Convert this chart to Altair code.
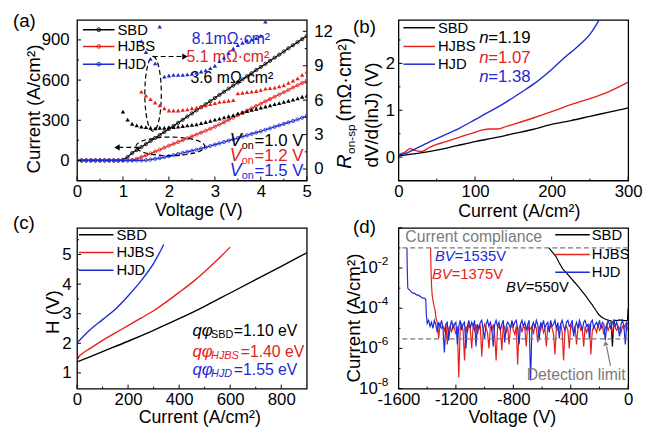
import altair as alt
import pandas as pd

FONT = "Liberation Sans"
BLACK, RED, BLUE, GRAY = "#000000", "#e6201c", "#1c2bd6", "#7b7b7b"
W, H = 233, 163
ONE = pd.DataFrame({"k": [0]})

# ---------------- (a) J-V curves and R_on,sp ----------------
a_volt = [round(0.1 * i, 1) for i in range(51)]
a_j_sbd = [0] * 10 + [5, 25, 55, 78, 100, 122, 145, 168, 190, 212,
                      235, 258, 281, 304, 328, 351, 374, 397, 420, 443,
                      466, 490, 513, 536, 559, 582, 605, 628, 651, 675,
                      698, 721, 744, 767, 790, 813, 837, 860, 883, 906, 929]
a_j_hjbs = [0] * 12 + [3, 12, 25, 38, 52, 66, 80, 95,
                       110, 124, 138, 152, 166, 180, 194, 208, 222, 237,
                       252, 269, 286, 303, 320, 338, 355, 372, 389, 406,
                       423, 441, 458, 475, 492, 509, 526, 544, 561, 578, 595]
a_j_hjd = [0] * 15 + [2, 6, 12, 18, 25,
                      32, 40, 48, 56, 64, 72, 80, 89, 98, 108,
                      118, 128, 138, 148, 158, 168, 178, 188, 198, 208,
                      218, 229, 240, 251, 262, 273, 284, 295, 306, 319, 332]
a_rv_sbd = [round(1.0 + 0.1 * i, 1) for i in range(41)]
a_r_sbd = [5.0, 4.3, 3.95, 3.8, 3.7, 3.65, 3.6, 3.55, 3.6, 3.6,
           3.65, 3.65, 3.7, 3.75, 3.8, 3.85, 3.9, 4.0, 4.1, 4.2,
           4.3, 4.4, 4.5, 4.6, 4.7, 4.85, 4.95, 5.05, 5.15, 5.25,
           5.35, 5.45, 5.55, 5.65, 5.75, 5.85, 5.95, 6.05, 6.15, 6.3, 6.4]
a_rv_hjbs = [round(1.4 + 0.1 * i, 1) for i in range(37)]
a_r_hjbs = [6.75, 6.4, 6.1, 5.8, 5.55, 5.3,
            5.1, 5.1, 5.1, 5.15, 5.2, 5.3, 5.35, 5.45, 5.55, 5.65,
            5.75, 5.85, 5.9, 5.95, 6.0, 6.6, 6.65, 6.7, 6.75, 6.8,
            6.9, 7.0, 7.05, 7.1, 7.2, 7.3, 7.5, 7.7, 7.9, 8.2, 8.5]
a_rv_hjd = [round(1.4 + 0.1 * i, 1) for i in range(28)]
a_r_hjd = [11.15, 10.2, 9.6, 9.2, 12.4, 8.05,
           8.15, 8.2, 8.2, 8.2, 8.25, 8.3, 8.4, 8.5, 8.6, 8.8,
           9.0, 9.4, 9.7, 10.1, 10.5, 10.8, 11.0, 11.2, 11.3, 11.4,
           11.6, 12.85]

# ---------------- (b) dV/d(lnJ) ----------------
b_i_sbd = [0, 25, 50, 75, 100, 125, 150, 175, 200, 225, 250, 275, 300]
b_v_sbd = [0.03, 0.08, 0.15, 0.24, 0.33, 0.41, 0.5, 0.59, 0.7, 0.78, 0.87, 0.96, 1.05]
b_i_hjbs = [0, 8, 15, 20, 30, 40, 50, 60, 75, 90, 100, 110, 120, 130, 140, 150,
            175, 200, 225, 250, 275, 300]
b_v_hjbs = [0.05, 0.1, 0.18, 0.15, 0.12, 0.2, 0.27, 0.32, 0.4, 0.48, 0.53, 0.58,
            0.6, 0.6, 0.65, 0.7, 0.83, 0.97, 1.12, 1.25, 1.4, 1.6]
b_i_hjd = [0, 10, 20, 40, 60, 80, 100, 120, 140, 160, 180, 200, 220, 230, 240, 250, 262]
b_v_hjd = [0.05, 0.08, 0.16, 0.32, 0.47, 0.62, 0.8, 0.98, 1.17, 1.38, 1.6, 1.87,
           2.17, 2.3, 2.45, 2.62, 2.93]

# ---------------- (c) H(J) ----------------
c_i_sbd = [0, 100, 200, 300, 400, 500, 600, 700, 800, 900]
c_h_sbd = [1.37, 1.72, 2.07, 2.44, 2.83, 3.25, 3.7, 4.15, 4.6, 5.06]
c_i_hjbs = [0, 10, 25, 50, 100, 150, 200, 250, 300, 350, 400, 450, 500, 550, 600]
c_h_hjbs = [1.47, 1.58, 1.68, 1.82, 2.1, 2.35, 2.6, 2.85, 3.1, 3.4, 3.72, 4.05,
            4.42, 4.82, 5.25]
c_i_hjd = [0, 50, 100, 150, 200, 250, 300, 340]
c_h_hjd = [2.01, 2.45, 2.8, 3.15, 3.6, 4.1, 4.7, 5.34]

# ---------------- (d) reverse I-V (log10 of current density) ----------------
d_v_sbd = [-552, -530, -505, -480, -455, -435, -405, -378, -350, -321, -300, -275,
           -253, -230, -207, -185, -162, -140, -120, -110, -100, -80, -60, -40,
           -20, -5, 0]
d_lg_sbd = [-1.0, -1.2, -1.4, -1.75, -2.05, -2.2, -2.45, -2.67, -2.9, -3.16, -3.35,
            -3.6, -3.81, -4.05, -4.3, -4.45, -4.54, -4.6, -4.62, -5.9, -4.6, -4.62,
            -4.58, -4.6, -4.62, -4.6, -4.0]
d_v_hjbs = [-1376, -1375, -1373, -1370, -1366, -1360, -1352, -1345, -1338] + list(range(-1330, 1, 10))
d_lg_hjbs = [-1.0, -1.5, -2.2, -2.8, -3.3, -3.6, -3.9, -4.1, -4.5,
             -4.7, -5.5, -4.8, -5.0, -4.9, -5.1, -4.8, -5.8, -5.0,
             -4.9, -5.2, -4.8, -5.0, -5.3, -4.9, -7.45, -5.0, -4.8, -5.1,
             -6.6, -4.9, -5.2, -4.8, -5.0, -6.0, -4.9, -5.1, -4.8, -5.3,
             -5.0, -4.9, -6.4, -5.1, -4.8, -5.0, -5.2, -6.0, -4.9, -5.1,
             -4.8, -5.3, -6.6, -5.0, -4.9, -5.1, -6.1, -4.8, -5.0, -5.2,
             -4.9, -5.8, -5.0, -4.8, -5.1, -5.3, -4.9, -6.8, -5.0, -4.8,
             -5.2, -4.9, -5.0, -5.9, -4.8, -5.1, -5.0, -4.9, -5.3, -4.8,
             -5.0, -5.7, -4.9, -5.1, -4.8, -5.2, -5.0, -5.9, -4.9, -5.1,
             -4.8, -5.0, -5.3, -6.3, -4.9, -5.1, -5.0, -4.8, -5.2, -6.6,
             -5.0, -4.9, -5.1, -6.0, -4.8, -5.0, -5.2, -4.9, -5.8, -5.0,
             -4.8, -5.1, -5.0, -5.9, -4.9, -5.2, -5.0, -4.8, -6.3, -5.1,
             -4.9, -5.0, -5.2, -4.8, -5.1, -5.0, -4.9, -5.3, -5.0, -4.8,
             -5.1, -4.9, -5.0, -5.2, -4.8, -5.0, -5.1, -4.9, -5.0, -5.2,
             -4.9, -5.0, -4.8, -5.1, -4.9]
d_v_hjd = [-1541, -1540, -1538, -1535, -1530, -1520, -1510, -1500, -1490, -1480,
           -1470, -1460, -1450, -1440, -1430, -1420, -1410, -1406] + list(range(-1400, 1, 10))
d_lg_hjd = [-1.0, -1.5, -2.3, -3.0, -3.05, -3.1, -3.2, -3.25, -3.25, -3.3,
            -3.35, -3.35, -3.4, -3.45, -3.5, -3.5, -3.55, -4.3,
            -4.75, -4.6, -4.9, -4.7, -5.0, -4.6, -4.8, -5.2, -4.7, -4.9,
            -4.6, -5.0, -6.2, -4.8, -4.7, -5.6, -4.9, -4.6, -5.0, -4.8,
            -4.7, -5.8, -4.9, -4.6, -5.1, -4.8, -4.7, -6.0, -4.9, -4.6,
            -5.0, -4.7, -4.9, -4.6, -5.9, -4.8, -5.0, -4.7, -4.6, -5.1,
            -5.5, -4.8, -4.6, -4.9, -4.7, -5.0, -5.9, -4.8, -4.6, -4.9,
            -4.7, -5.1, -4.8, -4.6, -5.7, -4.9, -4.7, -4.8, -5.0, -4.6,
            -4.9, -4.7, -4.6, -5.0, -5.8, -4.8, -4.6, -4.9, -4.7, -5.1,
            -4.8, -4.6, -7.6, -4.9, -4.7, -5.0, -4.6, -4.8, -5.6, -4.7,
            -4.9, -4.6, -5.0, -4.8, -4.7, -5.2, -4.6, -4.9, -4.8, -4.6,
            -5.0, -4.7, -5.5, -4.8, -4.6, -4.9, -5.1, -4.7, -4.6, -4.9,
            -4.8, -4.6, -5.4, -4.9, -4.7, -5.0, -4.6, -4.8, -5.1, -4.7,
            -4.6, -4.9, -4.8, -5.5, -4.7, -4.6, -5.0, -4.8, -4.7, -4.9,
            -4.6, -5.0, -4.7, -4.8, -5.6, -4.9, -4.6, -4.8, -5.0, -4.7,
            -4.6, -4.9, -4.7, -5.0, -5.4, -4.8, -4.6, -4.9, -5.8, -4.7,
            -4.8]
d_compliance = 0.1
d_detection = 3e-6
d_tick_vals = [1e-2, 1e-4, 1e-6, 1e-8]
d_tick_sup = ["-2", "-4", "-6", "-8"]


# ---------------- helpers ----------------
def scl(lo, hi, **kw):
    return alt.Scale(domain=[lo, hi], nice=False, zero=False, **kw)


def X(field, scale, axis=None):
    return alt.X(field, scale=scale, axis=axis) if axis is not None else alt.X(field, scale=scale)


def Y(field, scale, axis=None):
    return alt.Y(field, scale=scale, axis=axis) if axis is not None else alt.Y(field, scale=scale)


def txt(s, x, y, color=BLACK, size=16, align="left", style="normal", angle=None, dy=0):
    kw = dict(text=s, color=color, fontSize=size, align=align, baseline="middle",
              font=FONT, fontStyle=style)
    if angle is not None:
        kw["angle"] = angle
    if dy:
        kw["dy"] = dy
    return alt.Chart(ONE).mark_text(**kw).encode(x=alt.value(x), y=alt.value(y))


def leg(y, color, label, x0, x1, tx, marker=False):
    out = [alt.Chart(ONE).mark_rule(color=color, strokeWidth=1.5).encode(
        x=alt.value(x0), x2=alt.value(x1), y=alt.value(y))]
    if marker:
        out.append(alt.Chart(ONE).mark_point(color=color, filled=False, size=14, strokeWidth=1, opacity=1).encode(
            x=alt.value((x0 + x1) / 2), y=alt.value(y)))
    out.append(txt(label, tx, y, BLACK, 15))
    return out


def xticks(vals, xs, length):
    return alt.Chart(pd.DataFrame({"v": vals})).mark_rule(color=BLACK, strokeWidth=1).encode(
        x=X("v:Q", xs), y=alt.value(H), y2=alt.value(H - length))


def yticks(vals, ys, length, right=False):
    x0 = W if right else 0
    x1 = W - length if right else length
    return alt.Chart(pd.DataFrame({"v": vals})).mark_rule(color=BLACK, strokeWidth=1).encode(
        y=Y("v:Q", ys), x=alt.value(x0), x2=alt.value(x1))


def ax_bottom(values, title, tx, ty, **kw):
    return alt.Axis(orient="bottom", values=values, title=title, titleX=tx, titleY=ty,
                    titleAlign="center", titleBaseline="middle", titleFontSize=18,
                    titleFontWeight="normal", labelFontSize=17, labelPadding=3, ticks=False,
                    tickSize=0, domain=False, grid=False, labelFlush=False, labelOverlap=False, **kw)


def ax_left(values, title, tx, ty, pad, **kw):
    return alt.Axis(orient="left", values=values, title=title, titleX=tx, titleY=ty,
                    titleAlign="center", titleBaseline="middle", titleAngle=270,
                    titleFontSize=19, titleFontWeight="normal", labelFontSize=17,
                    labelPadding=pad, ticks=False, tickSize=0, domain=False, grid=False,
                    labelFlush=False, labelOverlap=False, **kw)


def series(xv, yv, xs, ys, color, width=1.3, xaxis=None, yaxis=None, interp=None):
    df = pd.DataFrame({"x": xv, "y": yv})
    mk = dict(color=color, strokeWidth=width, clip=True)
    if interp:
        mk["interpolate"] = interp
    return alt.Chart(df).mark_line(**mk).encode(x=X("x:Q", xs, xaxis), y=Y("y:Q", ys, yaxis))


def pts(xv, yv, xs, ys, color, shape, filled, size, yaxis=None):
    df = pd.DataFrame({"x": xv, "y": yv})
    return alt.Chart(df).mark_point(color=color, shape=shape, filled=filled, size=size,
                                    strokeWidth=0.8, opacity=1, clip=True).encode(
        x=X("x:Q", xs), y=Y("y:Q", ys, yaxis))


# ---------------- panel (a) ----------------
xs_a, yl_a, yr_a = scl(0, 5), scl(-150, 1050), scl(-1, 13)
ax_ax = ax_bottom([0, 1, 2, 3, 4, 5], "Voltage (V)", 123, 30, format="d")
ax_ay = ax_left([0, 300, 600, 900], "Current (A/cm²)", -44, 90, 8, format="d")
ax_ar = alt.Axis(orient="right", values=[0, 3, 6, 9, 12], title=None, labelFontSize=17,
                 labelPadding=7, ticks=False, tickSize=0, domain=False, grid=False,
                 labelFlush=False, labelOverlap=False, format="d")

left_a = [
    series(a_volt, a_j_sbd, xs_a, yl_a, BLACK, 1.2, ax_ax, ax_ay),
    pts(a_volt, a_j_sbd, xs_a, yl_a, BLACK, "circle", False, 11),
    series(a_volt, a_j_hjbs, xs_a, yl_a, RED, 1.2),
    pts(a_volt, a_j_hjbs, xs_a, yl_a, RED, "circle", False, 11),
    series(a_volt, a_j_hjd, xs_a, yl_a, BLUE, 1.2),
    pts(a_volt, a_j_hjd, xs_a, yl_a, BLUE, "circle", False, 11),
]
ell1 = alt.Chart(pd.DataFrame({"x": [1.655], "y": [497]})).mark_point(
    shape="M0,-1A0.22,1,0,1,1,0,1A0.22,1,0,1,1,0,-1Z", size=5776, filled=False,
    color=BLACK, strokeWidth=1.2, strokeDash=[5, 3], opacity=1).encode(
    x=X("x:Q", xs_a), y=Y("y:Q", yl_a))
ell2 = alt.Chart(pd.DataFrame({"x": [2.03], "y": [105]})).mark_point(
    shape="M-1,0A1,0.27,0,1,1,1,0A1,0.27,0,1,1,-1,0Z", size=4900, filled=False,
    color=BLACK, strokeWidth=1.2, strokeDash=[5, 3], opacity=1).encode(
    x=X("x:Q", xs_a), y=Y("y:Q", yl_a))
arr = pd.DataFrame({"x": [1.65, 1.35], "x2": [2.30, 0.92], "y": [776, 97]})
arrows = alt.Chart(arr).mark_rule(color=BLACK, strokeWidth=1.2, strokeDash=[5, 3]).encode(
    x=X("x:Q", xs_a), x2="x2:Q", y=Y("y:Q", yl_a))
heads = pd.DataFrame({"x": [2.35, 0.87], "y": [776, 97], "s": ["triangle-right", "triangle-left"]})
head_a = [alt.Chart(heads.iloc[[i]]).mark_point(shape=heads.s[i], filled=True, color=BLACK,
                                                size=40, opacity=1).encode(
    x=X("x:Q", xs_a), y=Y("y:Q", yl_a)) for i in range(2)]
left_a += [ell1, ell2, arrows] + head_a
left_a += [xticks([0, 1, 2, 3, 4, 5], xs_a, 4), xticks([0.5, 1.5, 2.5, 3.5, 4.5], xs_a, 2),
           yticks([0, 300, 600, 900], yl_a, 4), yticks([-150, 150, 450, 750], yl_a, 2)]
left_a += leg(10, BLACK, "SBD", 6, 38, 41, True) + leg(27, RED, "HJBS", 6, 38, 41, True) + \
    leg(45, BLUE, "HJD", 6, 38, 41, True)
left_a += [txt("8.1mΩ·cm²", 156, 20, BLUE, 16, "center"),
           txt("5.1 mΩ·cm²", 153, 38, RED, 16, "center"),
           txt("3.6 mΩ·cm²", 157, 59, BLACK, 16, "center")]
for yy, col, val in [(123, BLACK, "=1.0 V"), (138, RED, "=1.2 V"), (153, BLUE, "=1.5 V")]:
    left_a += [txt("V", 155, yy, col, 18, style="italic"), txt("on", 167, yy + 5, col, 11),
               txt(val, 180, yy, col, 17)]
left_a += [txt("(a)", -65, 1, BLACK, 19),
           txt("R", 272, 151, BLACK, 20, style="italic", angle=270),
           txt("on-sp", 278, 136, BLACK, 12, angle=270),
           txt("(mΩ·cm²)", 272, 103, BLACK, 20, angle=270)]
right_a = [
    pts(a_rv_sbd, a_r_sbd, xs_a, yr_a, BLACK, "triangle-up", True, 20, ax_ar),
    pts(a_rv_hjbs, a_r_hjbs, xs_a, yr_a, RED, "triangle-up", True, 20),
    pts(a_rv_hjd, a_r_hjd, xs_a, yr_a, BLUE, "triangle-up", True, 20),
    yticks([0, 3, 6, 9, 12], yr_a, 4, right=True),
    yticks([1.5, 4.5, 7.5, 10.5], yr_a, 2, right=True),
]
pa = alt.layer(alt.layer(*left_a), alt.layer(*right_a)).resolve_scale(y="independent").properties(
    width=W, height=H)

# ---------------- panel (b) ----------------
xs_b, ys_b = scl(0, 300), scl(-0.5, 2.93)
ax_bx = ax_bottom([0, 100, 200, 300], "Current (A/cm²)", 122, 31, format="d")
ax_by = ax_left([0, 1, 2], "dV/d(lnJ) (V)", -27, 96, 4, format="d")
lay_b = [
    series(b_i_sbd, b_v_sbd, xs_b, ys_b, BLACK, 1.4, ax_bx, ax_by, "monotone"),
    series(b_i_hjbs, b_v_hjbs, xs_b, ys_b, RED, 1.4, interp="monotone"),
    series(b_i_hjd, b_v_hjd, xs_b, ys_b, BLUE, 1.4, interp="monotone"),
    xticks([0, 100, 200, 300], xs_b, 4), xticks([50, 150, 250], xs_b, 2),
    yticks([0, 1, 2], ys_b, 4), yticks([0.5, 1.5, 2.5], ys_b, 2),
]
lay_b += leg(8, BLACK, "SBD", 5, 37, 40) + leg(27, RED, "HJBS", 5, 37, 40) + leg(45, BLUE, "HJD", 5, 37, 40)
for yy, col, val in [(19, BLACK, "=1.19"), (39, RED, "=1.07"), (58, BLUE, "=1.38")]:
    lay_b += [txt("n", 82, yy, col, 17, style="italic"), txt(val, 91, yy, col, 17)]
lay_b += [txt("(b)", -46, 7, BLACK, 19)]
pb = alt.layer(*lay_b).properties(width=W, height=H)

# ---------------- panel (c) ----------------
xs_c, ys_c = scl(0, 900), scl(0.47, 5.9)
ax_cx = ax_bottom([0, 200, 400, 600, 800], "Current (A/cm²)", 124, 29, format="d")
ax_cy = ax_left([1, 2, 3, 4, 5], "H (V)", -25, 85, 6, format="d")
lay_c = [
    series(c_i_sbd, c_h_sbd, xs_c, ys_c, BLACK, 1.4, ax_cx, ax_cy, "monotone"),
    series(c_i_hjbs, c_h_hjbs, xs_c, ys_c, RED, 1.4, interp="monotone"),
    series(c_i_hjd, c_h_hjd, xs_c, ys_c, BLUE, 1.4, interp="monotone"),
    xticks([0, 200, 400, 600, 800], xs_c, 4), xticks([100, 300, 500, 700], xs_c, 2),
    yticks([1, 2, 3, 4, 5], ys_c, 4), yticks([1.5, 2.5, 3.5, 4.5, 5.5], ys_c, 2),
]
lay_c += leg(7, BLACK, "SBD", 2, 37, 40) + leg(25, RED, "HJBS", 2, 37, 40) + leg(43, BLUE, "HJD", 2, 37, 40)
for yy, col, sub, sty, ex, val in [(105, BLACK, "SBD", "normal", 159, "=1.10 eV"),
                                   (126, RED, "HJBS", "italic", 166, "=1.40 eV"),
                                   (144, BLUE, "HJD", "italic", 159, "=1.55 eV")]:
    lay_c += [txt("qφ", 117, yy, col, 17, style="italic"), txt(sub, 136, yy + 4, col, 11, style=sty),
              txt(val, ex, yy, col, 16)]
lay_c += [txt("(c)", -65, -5, BLACK, 19)]
pc = alt.layer(*lay_c).properties(width=W, height=H)

# ---------------- panel (d) ----------------
xs_d, ys_d = scl(-1600, 0), scl(1e-8, 1, type="log")
ax_dx = ax_bottom([-1600, -1200, -800, -400, 0], "Voltage (V)", 115, 29,
                  labelExpr="toString(datum.value)")
ax_dy = ax_left(d_tick_vals, "Current (A/cm²)", -46, 91, 8, labels=False)
lay_d = [
    series(d_v_sbd, [10 ** v for v in d_lg_sbd], xs_d, ys_d, BLACK, 1.2, ax_dx, ax_dy),
    series(d_v_hjbs, [10 ** v for v in d_lg_hjbs], xs_d, ys_d, RED, 1.2),
    series(d_v_hjd, [10 ** v for v in d_lg_hjd], xs_d, ys_d, BLUE, 1.2),
    alt.Chart(pd.DataFrame({"y": [d_compliance, d_detection]})).mark_rule(
        color=GRAY, strokeWidth=1.2, strokeDash=[5, 3]).encode(y=Y("y:Q", ys_d)),
    xticks([-1600, -1200, -800, -400, 0], xs_d, 4), xticks([-1400, -1000, -600, -200], xs_d, 2),
    yticks([1, 1e-2, 1e-4, 1e-6, 1e-8], ys_d, 4), yticks([1e-1, 1e-3, 1e-5, 1e-7], ys_d, 2),
]
lab_d = alt.Chart(pd.DataFrame({"v": d_tick_vals, "sup": d_tick_sup})).encode(y=Y("v:Q", ys_d))
lay_d += [lab_d.mark_text(text="10", align="right", baseline="middle", fontSize=17, font=FONT,
                          color=BLACK).encode(x=alt.value(-21)),
          lab_d.mark_text(align="left", baseline="middle", fontSize=12, font=FONT, dy=-7,
                          color=BLACK).encode(x=alt.value(-21), text="sup:N")]
lay_d += leg(7, BLACK, "SBD", 159, 194, 196) + leg(27, RED, "HJBS", 159, 194, 196) + \
    leg(45, BLUE, "HJD", 159, 194, 196)
lay_d += [txt("Current compliance", 7, 9, GRAY, 16),
          txt("BV", 37, 29, BLUE, 15, style="italic"), txt("=1535V", 57, 29, BLUE, 15),
          txt("BV", 34, 47, RED, 15, style="italic"), txt("=1375V", 54, 47, RED, 15),
          txt("BV", 109, 60, BLACK, 15, style="italic"), txt("=550V", 129, 60, BLACK, 15),
          txt("Detection limit", 130, 149, GRAY, 16),
          alt.Chart(ONE).mark_rule(color=GRAY, strokeWidth=1.2).encode(
              x=alt.value(215), x2=alt.value(211), y=alt.value(140), y2=alt.value(120)),
          alt.Chart(ONE).mark_point(shape="triangle-up", filled=True, color=GRAY, size=30,
                                    angle=349, opacity=1).encode(x=alt.value(210), y=alt.value(117)),
          txt("(d)", -46, -1, BLACK, 19)]
pd_ = alt.layer(*lay_d).properties(width=W, height=H)

chart = alt.concat(pa, pb, pc, pd_, columns=2, spacing={"row": 48, "column": 93},
                   bounds="flush").properties(
    padding={"left": 4, "top": 0, "right": 0, "bottom": 0}
).configure(font=FONT).configure_view(stroke=BLACK, strokeWidth=1.3).configure_axis(
    labelFont=FONT, titleFont=FONT, labelColor=BLACK, titleColor=BLACK)

chart.save("out.html", embed_options={"renderer": "svg", "actions": False})
